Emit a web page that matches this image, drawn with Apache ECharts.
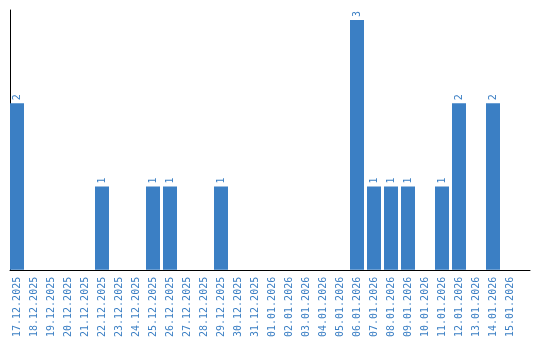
<!DOCTYPE html>
<html>
<head>
<meta charset="utf-8">
<script src="https://cdn.jsdelivr.net/npm/echarts@6/dist/echarts.min.js"></script>
<style>html,body{margin:0;padding:0;background:#fff;}#c{width:540px;height:340px;}</style>
</head>
<body>
<div id="c"></div>
<script>
const categories = ['17.12.2025','18.12.2025','19.12.2025','20.12.2025','21.12.2025','22.12.2025','23.12.2025','24.12.2025','25.12.2025','26.12.2025','27.12.2025','28.12.2025','29.12.2025','30.12.2025','31.12.2025','01.01.2026','02.01.2026','03.01.2026','04.01.2026','05.01.2026','06.01.2026','07.01.2026','08.01.2026','09.01.2026','10.01.2026','11.01.2026','12.01.2026','13.01.2026','14.01.2026','15.01.2026'];
const counts = [2,0,0,0,0,1,0,0,1,1,0,0,1,0,0,0,0,0,0,0,3,1,1,1,0,1,2,0,2,0];
const yMax = 3;

const blue = '#3b7fc4';
const font = 'DejaVu Sans Mono';
const chart = echarts.init(document.getElementById('c'), null, {renderer: 'canvas'});
chart.setOption({
  animation: false,
  grid: [
    {left: 8.5, width: 510, top: 20, bottom: 70, containLabel: false},
    {left: 10, width: 520, top: 10, bottom: 70, containLabel: false}
  ],
  xAxis: [
    {type: 'category', gridIndex: 0, data: categories,
     axisLine: {show: false}, axisTick: {show: false},
     axisLabel: {rotate: 90, interval: 0, color: blue, fontFamily: font, fontSize: 10, margin: 7}},
    {type: 'value', gridIndex: 1, min: 0, max: 1,
     axisLine: {show: true, lineStyle: {color: '#000', width: 1}},
     axisTick: {show: false}, axisLabel: {show: false}, splitLine: {show: false}}
  ],
  yAxis: [
    {type: 'value', gridIndex: 0, min: 0, max: yMax, show: false},
    {type: 'value', gridIndex: 1, min: 0, max: 1,
     axisLine: {show: true, lineStyle: {color: '#000', width: 1}},
     axisTick: {show: false}, axisLabel: {show: false}, splitLine: {show: false}}
  ],
  series: [{
    type: 'bar', xAxisIndex: 0, yAxisIndex: 0,
    data: counts.map(v => v === 0 ? null : v),
    barWidth: 14,
    itemStyle: {color: blue},
    label: {show: true, position: 'top', rotate: 90, align: 'left', verticalAlign: 'middle',
            distance: 3, color: blue, fontFamily: font, fontSize: 10}
  }]
});
</script>
</body>
</html>
